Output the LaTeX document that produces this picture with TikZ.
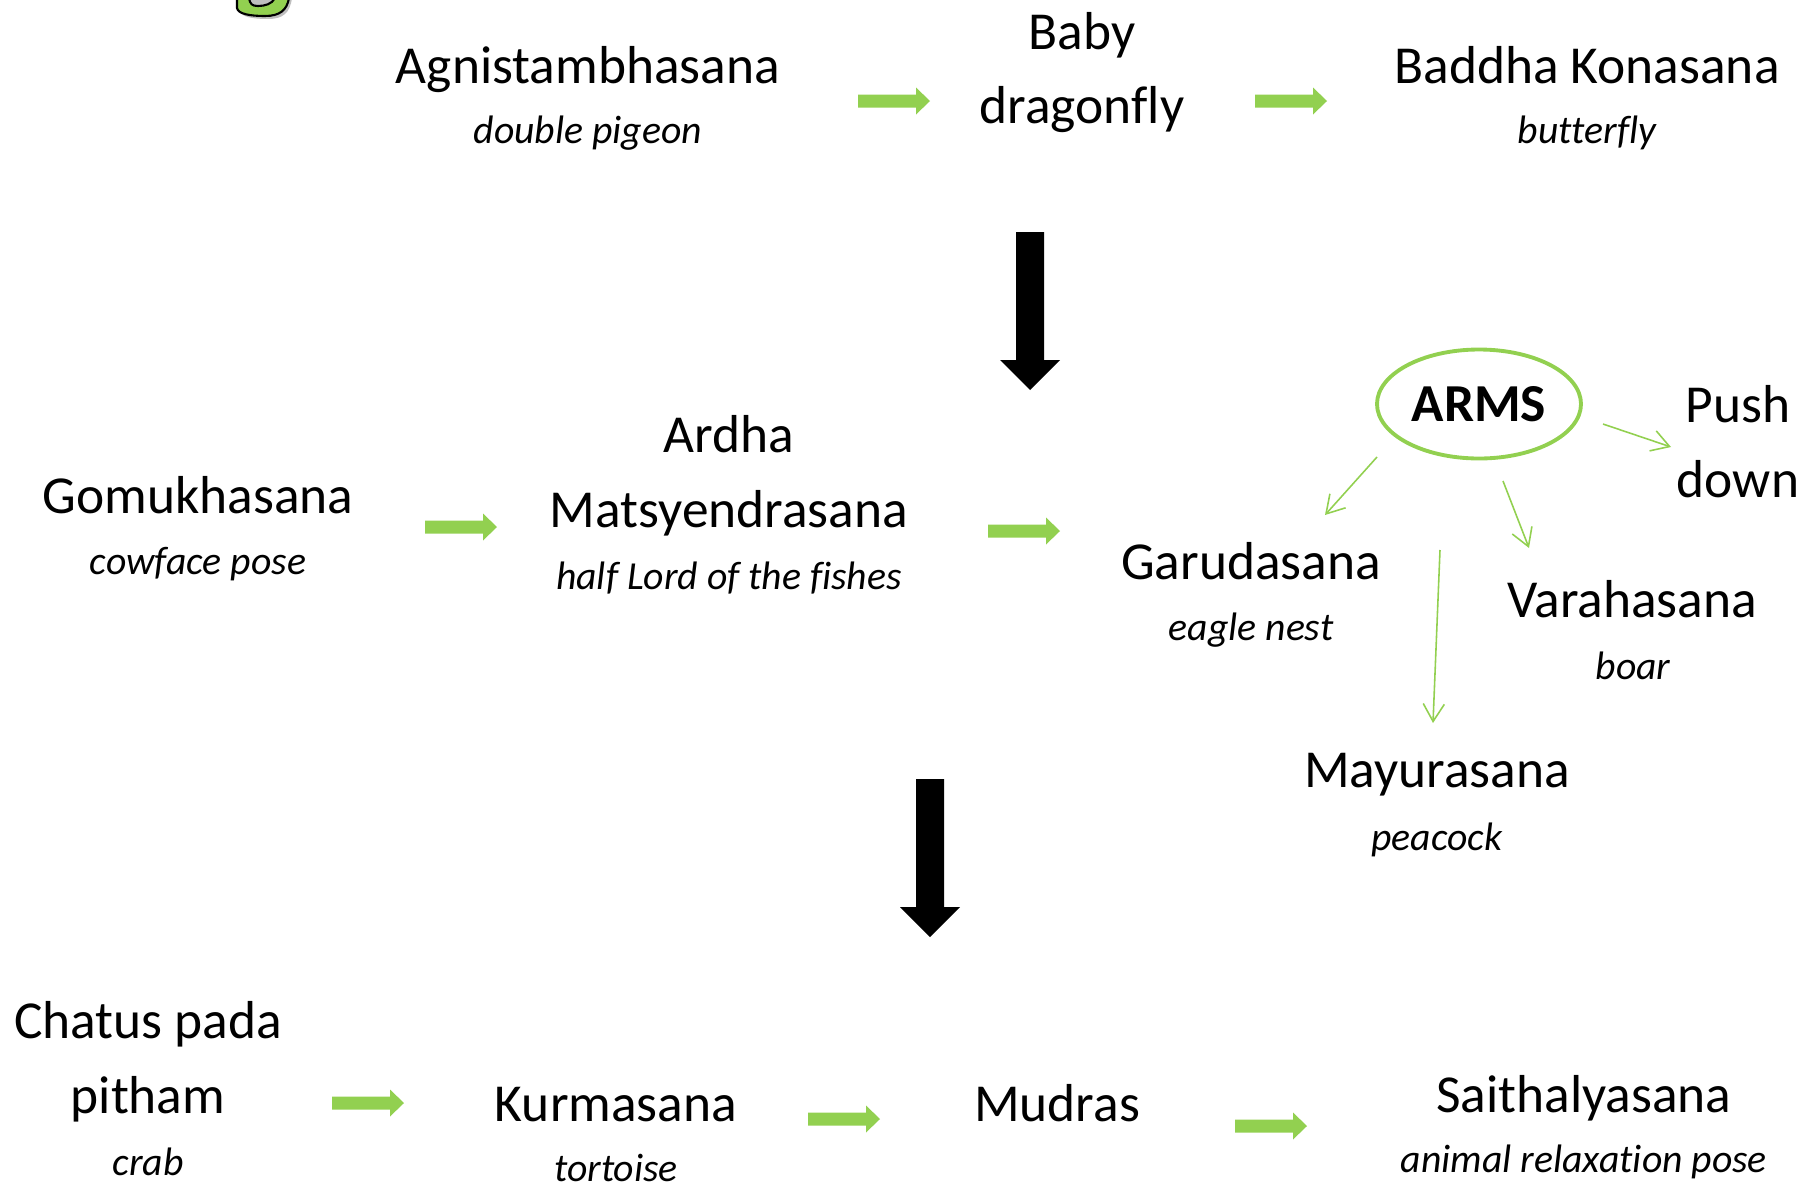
\documentclass[tikz,border=0pt]{standalone}
\usepackage{fontspec}
\setmainfont{Carlito}[Ligatures=NoCommon]
\usetikzlibrary{shapes.geometric,arrows.meta}
\definecolor{leaf}{RGB}{146,208,80}

\begin{document}
\begin{tikzpicture}[x=0.1mm,y=-0.1mm,
  pose/.style={anchor=base,inner sep=0pt,font=\fontsize{15.2}{18}\selectfont},
  alias/.style={anchor=base,inner sep=0pt,font=\fontsize{11.3}{13}\selectfont\itshape},
  thin/.style={leaf,line width=0.45pt,-{Straight Barb[length=5pt,width=6pt]}},
  garrow/.pic={\fill[leaf] (0,-6.5) -- (58,-6.5) -- (58,-13.5) -- (72,0) -- (58,13.5) -- (58,6.5) -- (0,6.5) -- cycle;},
  karrow/.pic={\fill[black] (-14,0) -- (14,0) -- (14,128) -- (30,128) -- (0,158) -- (-30,128) -- (-14,128) -- cycle;}]
\useasboundingbox (0,0) rectangle (1805,1185);

% tail of the title letter
\begin{scope}
\clip (0,0) rectangle (1805,1185);
\fill[black!25] (240,-2) -- (240,11) .. controls (241,17) and (253,19) .. (268,19) .. controls (283,19) and (290,13) .. (292,-2) -- cycle;
\draw[fill=leaf,line width=0.6pt] (237,-2) -- (237,8) .. controls (238,14) and (250,16) .. (265,16) .. controls (280,16) and (287,10) .. (289,-2) -- (275,-2) .. controls (272,4) and (265,6) .. (258,6) .. controls (252,6) and (250,4) .. (249,-2) -- cycle;
\end{scope}

% top row
\node[pose] (agni) at (588,83) {Agnistambhasana};
\node[alias] (agnis) at (588,143) {double pigeon};
\node[pose] (baby) at (1082,49) {Baby};
\node[pose] (baby2) at (1082,123) {dragonfly};
\node[pose] (baddha) at (1587,83) {Baddha Konasana};
\node[alias] (baddhas) at (1587,143) {butterfly};
\pic (g1) at (858,101) {garrow};
\pic (g2) at (1255,101) {garrow};
\pic (k1) at (1030,232) {karrow};

% middle row
\node[pose] (gomukh) at (198,513) {Gomukhasana};
\node[alias] (gomukhs) at (198,574) {cowface pose};
\node[pose] (ardha) at (729,452) {Ardha};
\node[pose] (ardha2) at (729,527) {Matsyendrasana};
\node[alias] (ardhas) at (729,589) {half Lord of the fishes};
\node[pose] (garuda) at (1251,579) {Garudasana};
\node[alias] (garudas) at (1251,640) {eagle nest};
\pic (g3) at (425,527) {garrow};
\pic (g4) at (988,531) {garrow};

% arms
\node[ellipse,draw=leaf,line width=1.1pt,minimum width=20.4mm,minimum height=10.9mm,inner sep=0pt,
  font=\fontsize{15.2}{18}\selectfont\bfseries] (arms) at (1479,404) {ARMS};
\node[pose] (push) at (1738,422) {Push};
\node[pose] (push2) at (1738,497) {down};
\node[pose] (varaha) at (1632,617) {Varahasana};
\node[alias] (varahas) at (1633,679) {boar};
\node[pose] (mayura) at (1437,787) {Mayurasana};
\node[alias] (mayuras) at (1437,850) {peacock};
\coordinate (a1) at (1603,424);
\coordinate (b1) at (1671,447);
\coordinate (a2) at (1377,457);
\coordinate (b2) at (1325,515);
\coordinate (a3) at (1503,481);
\coordinate (b3) at (1529,548);
\coordinate (a4) at (1440,550);
\coordinate (b4) at (1433,723);
\draw[thin] (a1) -- (b1);
\draw[thin] (a2) -- (b2);
\draw[thin] (a3) -- (b3);
\draw[thin] (a4) -- (b4);
\pic (k2) at (930,779) {karrow};

% bottom row
\node[pose] (chatus) at (148,1038) {Chatus pada};
\node[pose] (chatus2) at (148,1113) {pitham};
\node[alias] (chatuss) at (148,1175) {crab};
\node[pose] (kurma) at (616,1121) {Kurmasana};
\node[alias] (kurmas) at (616,1181) {tortoise};
\node[pose] (mudra) at (1057,1121) {Mudras};
\node[pose] (saith) at (1584,1112) {Saithalyasana};
\node[alias] (saiths) at (1584,1172) {animal relaxation pose};
\pic (g5) at (332,1103) {garrow};
\pic (g6) at (808,1119) {garrow};
\pic (g7) at (1235,1126) {garrow};
\end{tikzpicture}
\end{document}
